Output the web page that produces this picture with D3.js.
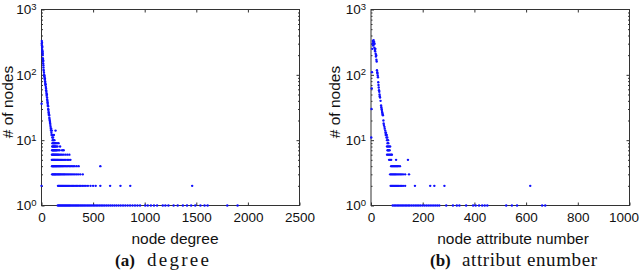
<!DOCTYPE html>
<html>
<head>
<meta charset="utf-8">
<script src="https://cdn.jsdelivr.net/npm/d3@7"></script>
<style>
  body { margin: 0; background: #fff; }
  svg { display: block; }
  text { font-family: "Liberation Sans", Arial, Helvetica, sans-serif; fill: #111; }
</style>
</head>
<body>
<div id="chart"></div>
<script>
// panel (a): node degree -> number of nodes
const degreeValues = [
    0, 1,
    2, 3, 4, 5, 6, 7, 8, 9, 10, 11, 12, 13, 14, 15, 16, 17, 18, 19,
    20, 22, 24, 25, 27, 28, 30, 32, 33, 35, 36, 38, 40, 42, 44, 45, 47, 49, 50, 52,
    54, 55, 57, 59, 60, 62, 64, 65, 67, 69, 70, 72, 74, 76, 78, 80, 82, 84, 86, 88,
    90, 92, 94, 96, 98, 100, 102, 105, 108, 112, 115, 120, 125, 136,
    // count 9
    106, 113, 118, 124, 131, 138, 150, 165,
    // count 8
    104, 110, 117, 122, 128, 135, 142, 155, 180,
    // count 7
    103, 109, 115, 121, 127, 134, 141, 148, 160, 175, 200, 215,
    // count 6
    101, 107, 113, 119, 125, 132, 139, 146, 153, 161, 170, 182, 195, 210, 230, 250, 270,
    // count 5
    100, 106, 112, 118, 124, 130, 137, 144, 151, 158, 166, 175, 185, 196, 208, 220, 235, 250, 265, 280,
    // count 4
    102, 108, 114, 120, 127, 134, 141, 148, 156, 164, 172, 180, 190, 200, 210, 222, 235, 248, 262, 276,
    290, 305, 320, 340, 360, 570,
    // count 3
    103, 110, 117, 124, 131, 138, 146, 154, 162, 170, 179, 188, 198, 208, 218, 228, 240, 252, 265, 278,
    292, 306, 322, 338, 355, 375, 400,
    // count 2
    160, 168, 176, 185, 194, 203, 212, 222, 232, 242, 253, 264, 275, 287, 299, 312, 325, 338, 352, 366,
    380, 395, 412, 430, 450, 475, 500, 525, 570, 665, 765, 860, 1460,
    // count 1
    158, 168, 178, 188, 198, 208, 218, 228, 238, 248, 258, 268, 278, 290, 302, 314, 326, 338, 350, 362,
    375, 388, 401, 414, 428, 442, 456, 470, 485, 500, 515, 530, 546, 562, 578, 595, 612, 630, 648, 667,
    686, 706, 726, 747, 768, 790, 812, 835, 858, 882, 906, 930, 955, 1005, 1030, 1060, 1090, 1120, 1175, 1200,
    1230, 1280, 1320, 1370, 1410, 1450, 1490, 1540, 1580, 1610, 1800, 1900
];
const degreeNodes = [
    2, 36,
    300, 330, 280, 310, 260, 240, 270, 220, 230, 200, 210, 180, 170, 160, 150, 165, 140, 130,
    120, 115, 108, 100, 95, 98, 90, 85, 88, 80, 75, 70, 72, 65, 62, 58, 55, 52, 48, 50,
    45, 42, 40, 38, 36, 34, 33, 30, 29, 27, 26, 25, 24, 22, 21, 20, 19, 18, 17, 16,
    15, 14, 15, 13, 12, 14, 12, 11, 10, 11, 10, 12, 10, 14,
    9, 9, 9, 9, 9, 9, 9, 9,
    8, 8, 8, 8, 8, 8, 8, 8, 8,
    7, 7, 7, 7, 7, 7, 7, 7, 7, 7, 7, 7,
    6, 6, 6, 6, 6, 6, 6, 6, 6, 6, 6, 6, 6, 6, 6, 6, 6,
    5, 5, 5, 5, 5, 5, 5, 5, 5, 5, 5, 5, 5, 5, 5, 5, 5, 5, 5, 5,
    4, 4, 4, 4, 4, 4, 4, 4, 4, 4, 4, 4, 4, 4, 4, 4, 4, 4, 4, 4,
    4, 4, 4, 4, 4, 4,
    3, 3, 3, 3, 3, 3, 3, 3, 3, 3, 3, 3, 3, 3, 3, 3, 3, 3, 3, 3,
    3, 3, 3, 3, 3, 3, 3,
    2, 2, 2, 2, 2, 2, 2, 2, 2, 2, 2, 2, 2, 2, 2, 2, 2, 2, 2, 2,
    2, 2, 2, 2, 2, 2, 2, 2, 2, 2, 2, 2, 2,
    1, 1, 1, 1, 1, 1, 1, 1, 1, 1, 1, 1, 1, 1, 1, 1, 1, 1, 1, 1,
    1, 1, 1, 1, 1, 1, 1, 1, 1, 1, 1, 1, 1, 1, 1, 1, 1, 1, 1, 1,
    1, 1, 1, 1, 1, 1, 1, 1, 1, 1, 1, 1, 1, 1, 1, 1, 1, 1, 1, 1,
    1, 1, 1, 1, 1, 1, 1, 1, 1, 1, 1, 1
];

// panel (b): node attribute number -> number of nodes
const attrValues = [
    1, 2, 3, 4,
    5, 6, 7, 8, 9, 10, 11, 12, 13, 14, 15, 16, 17, 18, 19, 20,
    21, 22, 23, 24, 25, 26, 27, 28, 29, 30, 31, 32, 33, 34, 35, 37, 39, 40, 41, 42,
    43, 44, 45, 46, 48, 49, 50, 52, 53, 55, 56, 57, 58, 60, 61, 62, 63, 64, 66, 67,
    // count 8
    62, 66, 70, 74,
    // count 7
    64, 66, 69, 72,
    // count 6
    62, 66, 70, 74, 78, 81,
    // count 5
    70, 74, 78, 97, 143,
    // count 4
    78, 82, 86, 90, 94, 98, 102, 106, 112,
    // count 3
    74, 78, 82, 86, 90, 94, 98, 103, 108, 113, 118, 124, 132, 147,
    // count 2
    76, 80, 84, 88, 92, 96, 100, 104, 108, 113, 118, 124, 132, 170, 229, 245, 284, 616,
    // count 1
    84, 90, 96, 102, 108, 114, 120, 126, 132, 138, 144, 150, 157, 164, 171, 178, 185, 192, 200, 208,
    216, 224, 232, 240, 248, 256, 264, 291, 317, 332, 342, 368, 395, 405, 418, 430, 440, 450, 523, 545,
    565, 662, 674
];
const attrNodes = [
    11, 30, 62, 110,
    250, 300, 330, 280, 310, 340, 290, 320, 260, 300, 240, 230, 250, 210, 190, 200,
    170, 160, 118, 110, 105, 98, 92, 77, 70, 64, 58, 55, 50, 47, 45, 40, 34, 32, 30, 29,
    27, 26, 25, 24, 20, 18, 17, 16, 15, 14, 13, 12, 13, 11, 12, 10, 11, 9, 10, 9,
    8, 8, 8, 8,
    7, 7, 7, 7,
    6, 6, 6, 6, 6, 6,
    5, 5, 5, 5, 5,
    4, 4, 4, 4, 4, 4, 4, 4, 4,
    3, 3, 3, 3, 3, 3, 3, 3, 3, 3, 3, 3, 3, 3,
    2, 2, 2, 2, 2, 2, 2, 2, 2, 2, 2, 2, 2, 2, 2, 2, 2, 2,
    1, 1, 1, 1, 1, 1, 1, 1, 1, 1, 1, 1, 1, 1, 1, 1, 1, 1, 1, 1,
    1, 1, 1, 1, 1, 1, 1, 1, 1, 1, 1, 1, 1, 1, 1, 1, 1, 1, 1, 1,
    1, 1, 1
];

// tick labels
const degreeTicks = [0, 500, 1000, 1500, 2000, 2500];
const attrTicks = [0, 200, 400, 600, 800, 1000];
const countTicks = [1, 10, 100, 1000];
const countExponents = ['0', '1', '2', '3'];
const countMinorTicks = [2, 3, 4, 5, 6, 7, 8, 9, 20, 30, 40, 50, 60, 70, 80, 90,
    200, 300, 400, 500, 600, 700, 800, 900];

const width = 640,
    height = 274,
    plotTop = 9.5,
    plotBottom = 205.5;

const serif = '"Liberation Serif", "DejaVu Serif", serif';

const svg = d3.select('#chart')
    .append('svg')
    .attr('width', width)
    .attr('height', height);

function drawPanel(p) {
    const x = d3.scaleLinear().domain([0, p.ticks[p.ticks.length - 1]]).range([p.left, p.right]);
    const y = d3.scaleLog().domain([1, 1000]).range([plotBottom, plotTop]);
    const g = svg.append('g');

    // box
    g.append('rect')
        .attr('x', p.left)
        .attr('y', plotTop)
        .attr('width', p.right - p.left)
        .attr('height', plotBottom - plotTop)
        .attr('fill', 'none')
        .attr('stroke', '#333')
        .attr('stroke-width', 1);

    // bottom axis with labels, top axis only ticks
    const xb = g.append('g')
        .attr('transform', `translate(0, ${plotBottom})`)
        .call(d3.axisBottom(x).tickValues(p.ticks).tickSize(-3).tickSizeOuter(0).tickPadding(7)
            .tickFormat(d3.format('d')));
    xb.selectAll('text').style('font-size', '13.5px').attr('fill', '#111');
    if (p.lastTickShift) {
        // the last label sits at the page edge
        xb.selectAll('.tick:last-of-type text').attr('dx', p.lastTickShift);
    }

    g.append('g')
        .attr('transform', `translate(0, ${plotTop})`)
        .call(d3.axisTop(x).tickValues(p.ticks.slice(1, -1)).tickSize(-3).tickSizeOuter(0).tickFormat(''));

    // left axis with 10^n labels
    const yl = g.append('g')
        .attr('transform', `translate(${p.left}, 0)`)
        .call(d3.axisLeft(y).tickValues(countTicks).tickSize(-3).tickSizeOuter(0).tickPadding(5).tickFormat(''));
    yl.selectAll('text')
        .style('font-size', '13.5px')
        .attr('fill', '#111')
        .each(function (d, i) {
            const t = d3.select(this);
            t.text('10');
            t.append('tspan')
                .attr('dy', '-0.45em')
                .style('font-size', '9.5px')
                .text(countExponents[i]);
        });
    g.append('g')
        .attr('transform', `translate(${p.left}, 0)`)
        .call(d3.axisLeft(y).tickValues(countMinorTicks).tickSize(-1.5).tickSizeOuter(0).tickFormat(''));

    // right axis, ticks only
    g.append('g')
        .attr('transform', `translate(${p.right}, 0)`)
        .call(d3.axisRight(y).tickValues(countTicks.slice(1, -1)).tickSize(-3).tickSizeOuter(0).tickFormat(''));
    g.append('g')
        .attr('transform', `translate(${p.right}, 0)`)
        .call(d3.axisRight(y).tickValues(countMinorTicks).tickSize(-1.5).tickSizeOuter(0).tickFormat(''));

    g.selectAll('.domain').remove();
    g.selectAll('.tick line').attr('stroke', '#333');

    // the points
    g.selectAll('circle')
        .data(p.xs)
        .join('circle')
        .attr('cx', function (d) {
            return x(d);
        })
        .attr('cy', function (d, i) {
            return y(p.ys[i]);
        })
        .attr('r', 1.2)
        .attr('fill', '#1010ff');

    // axis titles
    g.append('text')
        .attr('x', p.xLabelX)
        .attr('y', 244)
        .attr('text-anchor', 'middle')
        .style('font-size', '15.5px')
        .text(p.xLabel);

    g.append('text')
        .attr('transform', `translate(${p.yLabelX}, 102) rotate(-90)`)
        .attr('text-anchor', 'middle')
        .style('font-size', '15.5px')
        .text('# of nodes');

    // caption
    g.append('text')
        .attr('x', p.capX)
        .attr('y', 266)
        .style('font-family', serif)
        .style('font-weight', 'bold')
        .style('font-size', '17px')
        .text(p.capTag);
    g.append('text')
        .attr('x', p.capX + 32)
        .attr('y', 266)
        .style('font-family', serif)
        .style('font-size', '19px')
        .attr('textLength', p.capLen)
        .attr('lengthAdjust', 'spacing')
        .text(p.capText);
}

drawPanel({
    left: 41.5, right: 299.5, ticks: degreeTicks,
    xs: degreeValues, ys: degreeNodes,
    xLabel: 'node degree', xLabelX: 175, yLabelX: 13,
    capX: 115, capTag: '(a)', capText: 'degree', capLen: 62
});

drawPanel({
    left: 371, right: 629.5, ticks: attrTicks,
    xs: attrValues, ys: attrNodes,
    xLabel: 'node attribute number', xLabelX: 513, yLabelX: 340,
    capX: 430, capTag: '(b)', capText: 'attribut enumber', capLen: 135,
    lastTickShift: -6
});
</script>
</body>
</html>
